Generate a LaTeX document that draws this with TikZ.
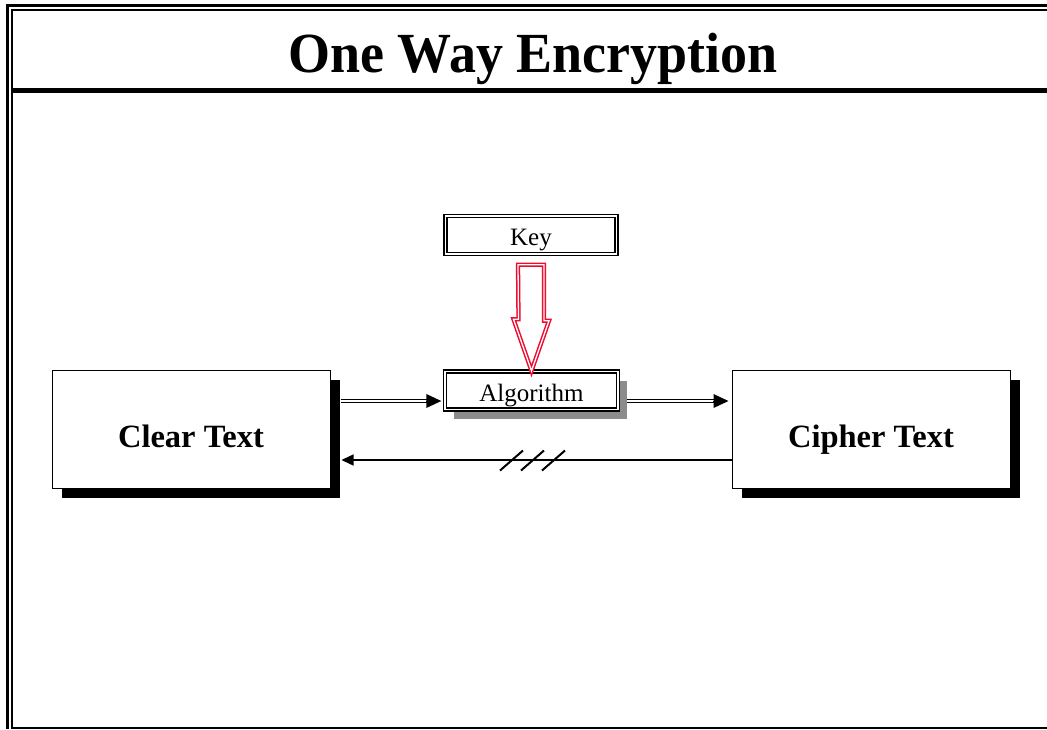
\documentclass[tikz,border=0pt]{standalone}
\usepackage{fontspec}
\setmainfont{Liberation Serif}
\usetikzlibrary{positioning,arrows.meta,shadows,calc}

\definecolor{keyred}{RGB}{240,10,45}

\begin{document}
\begin{tikzpicture}[
  x=1pt, y=-1pt,
  >={Triangle[length=15pt,width=14pt]},
  every node/.style={inner sep=0pt},
  bigbox/.style={draw, line width=1pt, fill=white,
    minimum width=278pt, minimum height=118pt,
    text height=37pt, text depth=0pt,
    font=\fontsize{32.5}{32.5}\selectfont\bfseries,
    drop shadow={shadow xshift=10pt, shadow yshift=-10pt, fill=black, opacity=1}},
  smallbox/.style={draw, line width=1.4pt, double, double distance=1.3pt, fill=white,
    minimum height=38pt, text height=21pt, text depth=0pt,
    font=\fontsize{25}{25}\selectfont},
  dblline/.style={draw, line width=1.5pt, double, double distance=1.4pt},
  keyarrow/.style={draw=keyred, line width=1.5pt, double=white, double distance=1.3pt,
    fill=white, line join=miter}
]
  \useasboundingbox (0,0) rectangle (1047,729);

  % page frame and title rule
  \draw[line width=3pt] (7.5,729) -- (7.5,5.5) -- (1047,5.5);
  \draw[line width=2pt] (12,729) -- (12,10) -- (1047,10);
  \draw[line width=2pt] (12,728) -- (1047,728);
  \draw[line width=5pt] (13,90.3) -- (1047,90.3);

  \node[font=\fontsize{54}{54}\selectfont\bfseries] (title) at (533,59)
    {\scalebox{1}[1.05]{One Way Encryption}};

  % boxes
  \node[bigbox] (clear) at (191,429) {Clear Text};
  \node[bigbox] (cipher) at (871,429) {Cipher Text};
  \node[smallbox, minimum width=171pt] (key) at (531,235) {Key};
  \node[smallbox, minimum width=173pt, text height=22pt,
    drop shadow={shadow xshift=9pt, shadow yshift=-9pt, fill=black!45, opacity=1}]
    (algo) at (531.5,390.5) {Algorithm};

  % key goes into the algorithm
  \draw[keyarrow] (key.south) ++(-13,10) -- ++(26,0) -- ++(0,56) -- ++(5,0)
    -- (algo.north) -- ++(-18,-51.5) -- ++(5,0) -- cycle;

  % forward direction
  \coordinate (a1) at ($(clear.east |- 0,401)+(10,0)$);
  \coordinate (a2) at (algo.west |- 0,401);
  \draw[dblline] (a1) -- ($(a2)+(-14,0)$);
  \draw[->, line width=0pt] ($(a2)+(-14,0)$) -- ($(a2)+(-3,0)$);
  \coordinate (b1) at ($(algo.east |- 0,401)+(8,0)$);
  \coordinate (b2) at (cipher.west |- 0,401);
  \draw[dblline] (b1) -- ($(b2)+(-14,0)$);
  \draw[->, line width=0pt] ($(b2)+(-14,0)$) -- ($(b2)+(-3,0)$);

  % no way back
  \coordinate (c1) at ($(clear.east |- 0,460)+(11,0)$);
  \draw[-{Triangle[length=12pt,width=11pt]}, line width=1.4pt] (cipher.west |- 0,460) -- (c1);
  \foreach \dx in {0,21,42}
    \draw[line width=2pt] (500+\dx,470.5) -- (523+\dx,450.5);
\end{tikzpicture}
\end{document}
